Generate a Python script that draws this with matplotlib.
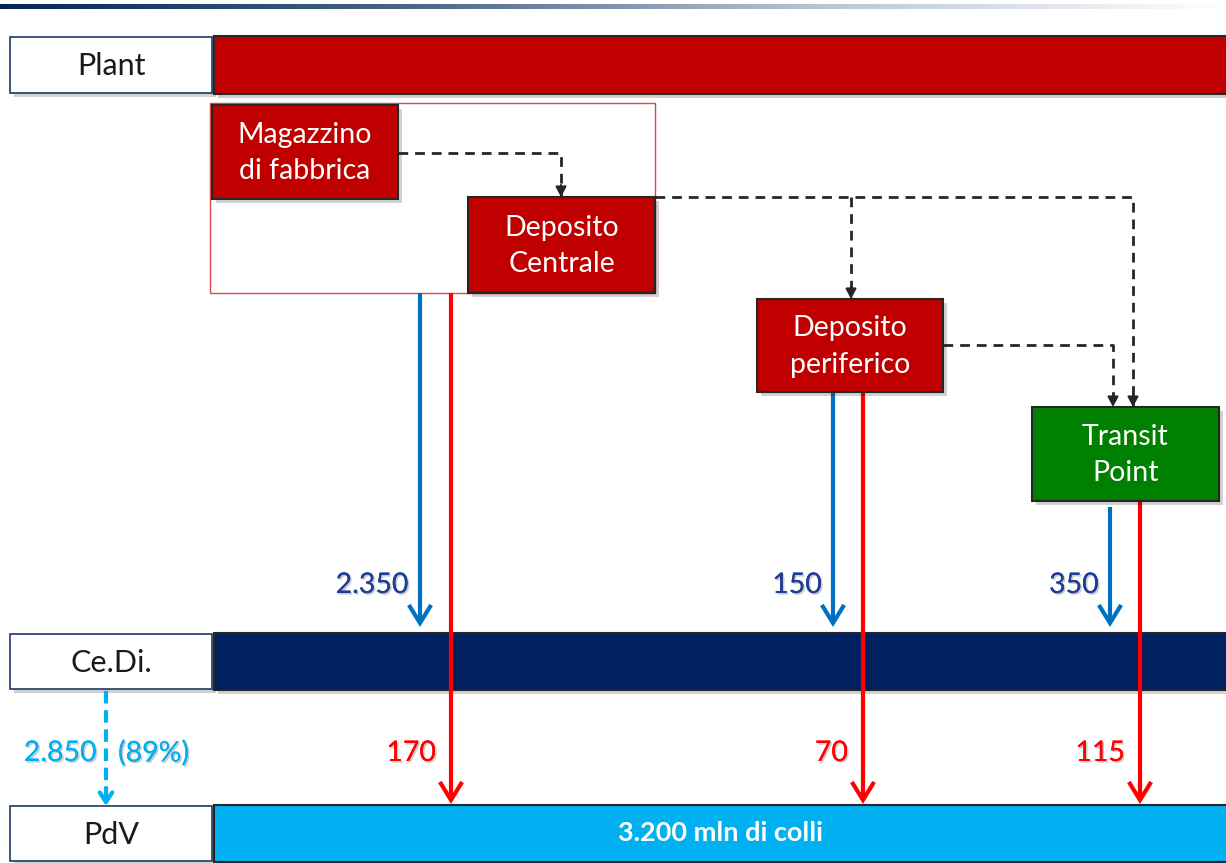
import matplotlib
matplotlib.use("Agg")
import matplotlib.pyplot as plt
import numpy as np
from matplotlib.patches import Rectangle, FancyArrowPatch
from matplotlib import patheffects as pe

plt.rcParams["font.family"] = ["Lato", "DejaVu Sans"]

# ---- data -------------------------------------------------------------
row_labels = ["Plant", "Ce.Di.", "PdV"]
node_labels = ["Magazzino\ndi fabbrica", "Deposito\nCentrale", "Deposito\nperiferico", "Transit\nPoint"]
flows_to_cedi = [2350, 150, 350]          # via Ce.Di. (blue)
flows_direct_pdv = [170, 70, 115]         # straight to PdV (red)
cedi_to_pdv = 2850
cedi_share_pct = 89
total_pdv = 3200


def fmt_it(v):
    return f"{v:,}".replace(",", ".")


# ---- canvas -----------------------------------------------------------
W, H = 1226, 863
fig = plt.figure(figsize=(W / 100, H / 100), dpi=100)
ax = fig.add_axes([0, 0, 1, 1])
ax.set_xlim(0, W)
ax.set_ylim(H, 0)
ax.axis("off")

DARK_RED = "#C00000"
NAVY = "#002060"
SKY = "#00B0F0"
GREEN = "#008000"
BLUE = "#0070C0"
RED = "#FF0000"
LABEL_BLUE = "#1F3C96"

# header gradient strip
grad = np.linspace(0, 1, 512)[None, :]
cmap = matplotlib.colors.LinearSegmentedColormap.from_list("hdr", ["#03284f", "#4a6589", "#b9c4d4", "#ffffff"])
ax.imshow(grad, cmap=cmap, extent=(0, W, 9.5, 4.5), aspect="auto", zorder=1)
ax.set_xlim(0, W)
ax.set_ylim(H, 0)


def box(x0, y0, x1, y1, fc, ec="#262626", lw=1.5, shadow=True, z=3):
    if shadow:
        ax.add_patch(Rectangle((x0 + 4, y0 + 4), x1 - x0, y1 - y0, fc="#000000", ec="none",
                               alpha=0.18, zorder=z - 1))
    ax.add_patch(Rectangle((x0, y0), x1 - x0, y1 - y0, fc=fc, ec=ec, lw=lw, zorder=z))


def label_box(x0, y0, x1, y1, text):
    box(x0, y0, x1, y1, "white", ec="#1F3864", lw=1.2, shadow=True)
    ax.text((x0 + x1) / 2, (y0 + y1) / 2 + 1, text, ha="center", va="center",
            fontsize=22, color="#1a1a1a", zorder=4)


# ---- row bands --------------------------------------------------------
rows = [(36, 94, DARK_RED), (633, 690, NAVY), (805, 862, SKY)]
for lbl, (y0, y1, c) in zip(row_labels, rows):
    label_box(10, y0 + 1, 212, y1 - 1, lbl)
    box(214, y0, W + 5, y1, c, ec="#262626", lw=1.5)

ax.text(720, 833, f"{fmt_it(total_pdv)} mln di colli", ha="center", va="center",
        fontsize=19.5, fontweight="bold", color="white", zorder=5)

# production-site frame
ax.add_patch(Rectangle((210, 103), 445, 190, fc="none", ec="#E04848", lw=1.0, zorder=2))

# ---- nodes ------------------------------------------------------------
nodes = [
    (212, 105, 398, 199, DARK_RED),
    (468, 197, 655, 293, DARK_RED),
    (757, 299, 943, 392, DARK_RED),
    (1032, 407, 1219, 501, GREEN),
]
for lbl, (x0, y0, x1, y1, c) in zip(node_labels, nodes):
    box(x0, y0, x1, y1, c, ec="#262626", lw=1.5, z=6)
    ax.text((x0 + x1) / 2, (y0 + y1) / 2 + 1, lbl, ha="center", va="center",
            fontsize=20.5, color="white", linespacing=1.5, zorder=7)


# ---- dashed connections between nodes ----------------------------------
def dashed_path(xs, ys, head=True):
    ax.plot(xs, ys, color="#262626", lw=2.0, ls=(0, (3.5, 2.5)), zorder=5,
            solid_capstyle="butt", dash_capstyle="butt")
    if head:
        ax.annotate("", xy=(xs[-1], ys[-1]), xytext=(xs[-1], ys[-1] - 12),
                    arrowprops=dict(arrowstyle="-|>,head_length=0.6,head_width=0.32",
                                    color="#262626", lw=1.5, shrinkA=0, shrinkB=0),
                    zorder=6)


dashed_path([398, 561, 561], [153, 153, 197])
dashed_path([655, 1133, 1133], [197, 197, 407])
dashed_path([851, 851], [197, 299])
dashed_path([943, 1113, 1113], [345, 345, 407])


# ---- flow arrows ------------------------------------------------------
def flow(x, y0, y1, color, lw=3.0):
    arr = FancyArrowPatch((x, y0), (x, y1), arrowstyle="->,head_length=13,head_width=8",
                          color=color, lw=lw, shrinkA=0, shrinkB=0,
                          mutation_scale=1, zorder=4, capstyle="butt", joinstyle="miter")
    ax.add_patch(arr)


shadow_fx = [pe.withSimplePatchShadow(offset=(1.2, -1.2), shadow_rgbFace="#9a9a9a", alpha=0.5), pe.Normal()]

blue_x = [420, 833, 1110]
blue_top = [293, 392, 507]
for x, yt, v in zip(blue_x, blue_top, flows_to_cedi):
    flow(x, yt, 627, BLUE)
    ax.text(x - 11, 585, fmt_it(v), ha="right", va="center", fontsize=20.5,
            color=LABEL_BLUE, zorder=5, path_effects=shadow_fx)

red_x = [451, 863, 1140]
red_top = [293, 392, 501]
for x, yt, v in zip(red_x, red_top, flows_direct_pdv):
    flow(x, yt, 804, RED)
    ax.text(x - 15, 753, fmt_it(v), ha="right", va="center", fontsize=20.5,
            color=RED, zorder=5, path_effects=shadow_fx)

# Ce.Di. -> PdV dashed flow
ax.plot([106, 106], [691, 795], color=SKY, lw=3.0, ls=(0, (3, 1.6)), zorder=4)
ax.annotate("", xy=(106, 806), xytext=(106, 788),
            arrowprops=dict(arrowstyle="->,head_length=0.7,head_width=0.45", color=SKY, lw=3.0,
                            shrinkA=0, shrinkB=0), zorder=4)
ax.text(97, 753, fmt_it(cedi_to_pdv), ha="right", va="center", fontsize=20.5, color=SKY,
        zorder=5, path_effects=shadow_fx)
ax.text(118, 753, f"({cedi_share_pct}%)", ha="left", va="center", fontsize=20.5, color=SKY,
        zorder=5, path_effects=shadow_fx)

fig.savefig("out.png", dpi=100)
